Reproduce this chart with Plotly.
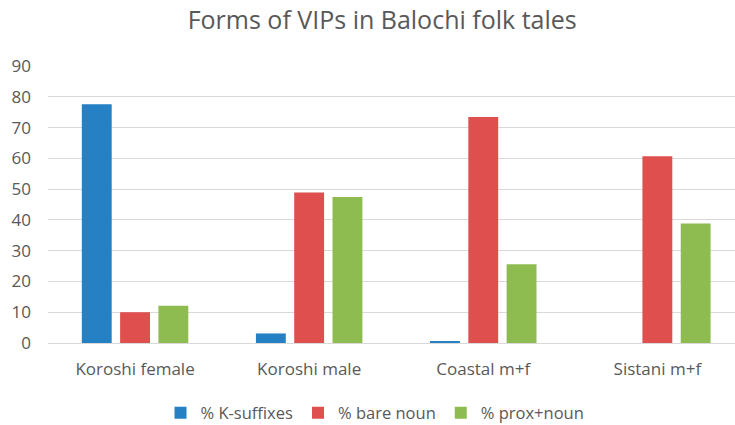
import plotly.graph_objects as go

categories = ["Koroshi female", "Koroshi male", "Coastal m+f", "Sistani m+f"]
k_suffixes = [77.6, 3.1, 0.4, 0.0]
bare_noun = [10.0, 48.9, 73.4, 60.7]
prox_noun = [12.1, 47.4, 25.6, 38.8]
series_names = ["% K-suffixes", "% bare noun", "% prox+noun"]
colors = ["#2581c3", "#df4f4e", "#8fbc50"]
y_ticks = [0, 10, 20, 30, 40, 50, 60, 70, 80, 90]

fig = go.Figure()
for name, vals, c in zip(series_names, [k_suffixes, bare_noun, prox_noun], colors):
    fig.add_trace(go.Bar(x=categories, y=vals, name=name, marker=dict(color=c, line=dict(width=0))))

font = "Open Sans, Liberation Sans, sans-serif"
fig.update_layout(
    width=735, height=425,
    margin=dict(l=48, r=0, t=66, b=82, autoexpand=False),
    paper_bgcolor="white", plot_bgcolor="white",
    barmode="group", bargap=0.34, bargroupgap=0.22,
    title=dict(text="Forms of VIPs in Balochi folk tales", x=0.52, xref="container", xanchor="center",
               y=0.953, yref="container", yanchor="middle",
               font=dict(family=font, size=25, color="#595959")),
    font=dict(family=font, color="#595959", size=17),
    xaxis=dict(range=[-0.5, 3.446], showgrid=False, ticks="", tickfont=dict(size=17, color="#595959"),
               ticklabelstandoff=14, automargin=False),
    yaxis=dict(range=[0, 90], tickvals=y_ticks, showgrid=True, gridcolor="#d9d9d9", gridwidth=1,
               zeroline=True, zerolinecolor="#d9d9d9", zerolinewidth=1, ticks="",
               tickfont=dict(size=17, color="#595959"), ticklabelstandoff=16, automargin=False),
    legend=dict(orientation="h", x=0.476, xanchor="center", y=0.028, yref="container", yanchor="middle",
                font=dict(size=16.5, color="#595959"), itemwidth=30, traceorder="normal"),
)
fig.write_html("out.html", config={"displayModeBar": False},
               post_script="document.body.style.margin='0';")
